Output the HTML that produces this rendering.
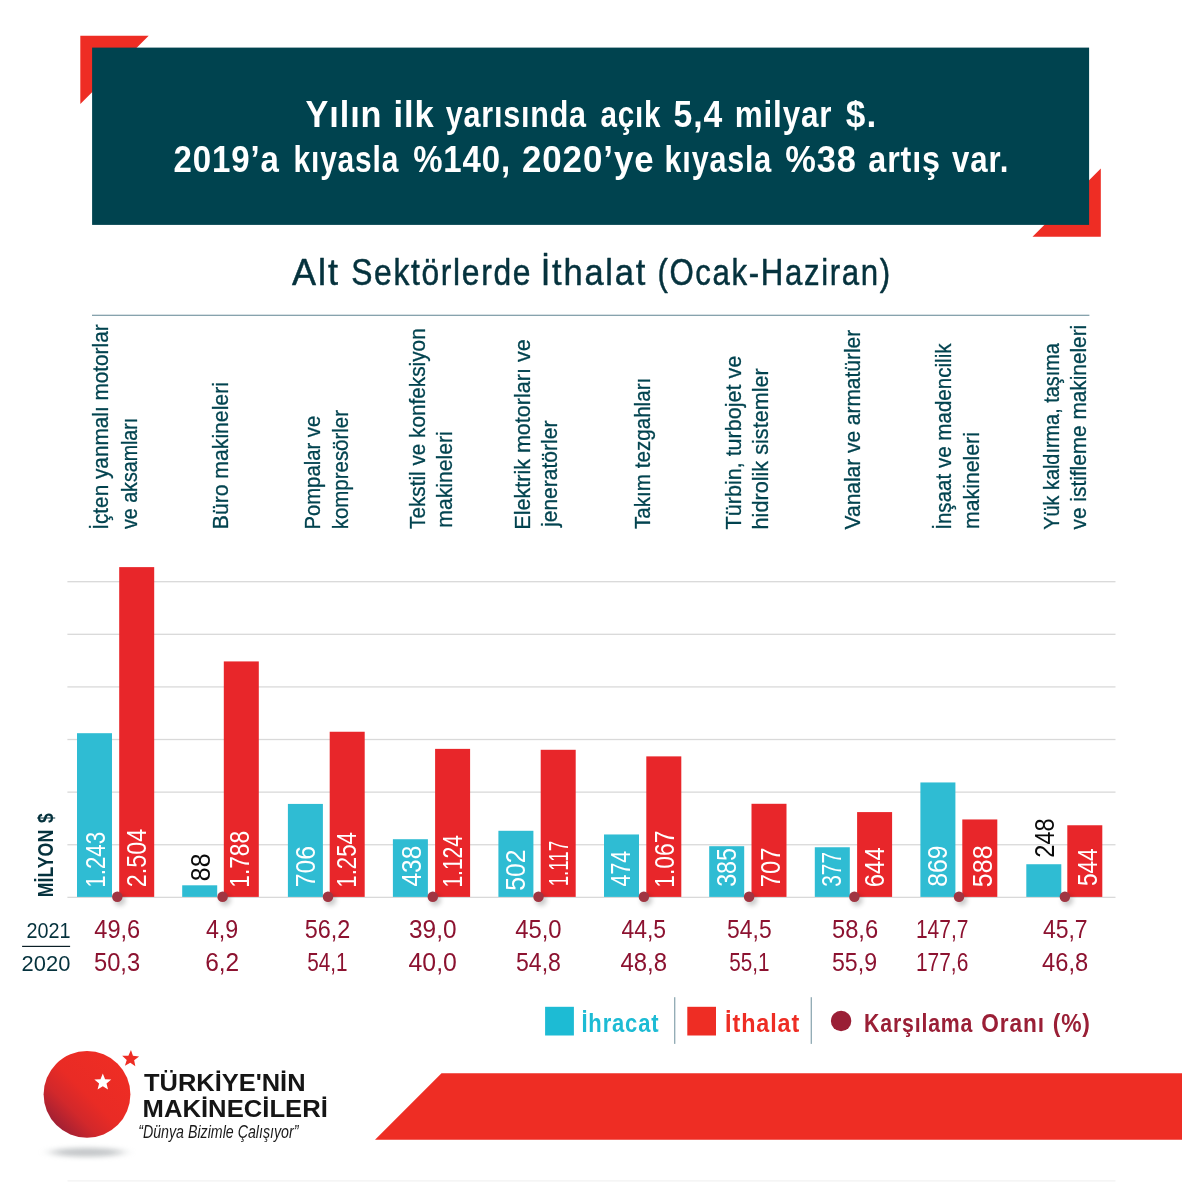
<!DOCTYPE html>
<html lang="tr"><head><meta charset="utf-8"><title>Alt Sektörlerde İthalat (Ocak-Haziran)</title>
<style>
html,body{margin:0;padding:0;background:#fff;}
body{width:1182px;height:1182px;overflow:hidden;}
svg{display:block;}
text{font-family:"Liberation Sans",sans-serif;}
</style></head><body>
<svg width="1182" height="1182" viewBox="0 0 1182 1182">
<rect width="1182" height="1182" fill="#fff"/>
<polygon points="80.3,35.7 148.7,35.7 80.3,104" fill="#ee2d24"/>
<polygon points="1100.8,168.4 1100.8,236.8 1032.5,236.8" fill="#ee2d24"/>
<rect x="92.1" y="47.6" width="997" height="177.3" fill="#00434f"/>
<text transform="translate(305.50 127.10) scale(0.9303 1)" font-size="36.80" fill="#fff" font-weight="bold" letter-spacing="1.00">Yılın</text>
<text transform="translate(393.48 127.10) scale(0.9390 1)" font-size="36.80" fill="#fff" font-weight="bold" letter-spacing="1.00">ilk</text>
<text transform="translate(445.67 127.10) scale(0.8281 1)" font-size="36.80" fill="#fff" font-weight="bold" letter-spacing="1.00">yarısında</text>
<text transform="translate(600.51 127.10) scale(0.8047 1)" font-size="36.80" fill="#fff" font-weight="bold" letter-spacing="1.00">açık</text>
<text transform="translate(673.49 127.10) scale(0.9159 1)" font-size="36.80" fill="#fff" font-weight="bold" letter-spacing="1.00">5,4</text>
<text transform="translate(734.66 127.10) scale(0.8541 1)" font-size="36.80" fill="#fff" font-weight="bold" letter-spacing="1.00">milyar</text>
<text transform="translate(845.86 127.10) scale(0.9585 1)" font-size="36.80" fill="#fff" font-weight="bold" letter-spacing="1.00">$.</text>
<text transform="translate(173.54 172.10) scale(0.8970 1)" font-size="36.80" fill="#fff" font-weight="bold" letter-spacing="1.00">2019’a</text>
<text transform="translate(293.61 172.10) scale(0.8131 1)" font-size="36.80" fill="#fff" font-weight="bold" letter-spacing="1.00">kıyasla</text>
<text transform="translate(413.18 172.10) scale(0.8949 1)" font-size="36.80" fill="#fff" font-weight="bold" letter-spacing="1.00">%140,</text>
<text transform="translate(521.88 172.10) scale(0.9483 1)" font-size="36.80" fill="#fff" font-weight="bold" letter-spacing="1.00">2020’ye</text>
<text transform="translate(664.56 172.10) scale(0.8289 1)" font-size="36.80" fill="#fff" font-weight="bold" letter-spacing="1.00">kıyasla</text>
<text transform="translate(785.14 172.10) scale(0.9351 1)" font-size="36.80" fill="#fff" font-weight="bold" letter-spacing="1.00">%38</text>
<text transform="translate(868.33 172.10) scale(0.8777 1)" font-size="36.80" fill="#fff" font-weight="bold" letter-spacing="1.00">artış</text>
<text transform="translate(952.04 172.10) scale(0.8478 1)" font-size="36.80" fill="#fff" font-weight="bold" letter-spacing="1.00">var.</text>
<text transform="translate(292.11 284.80) scale(0.9956 1)" font-size="36.20" fill="#05323d" stroke="#05323d" stroke-width="0.50" stroke-linejoin="round" letter-spacing="1.90">Alt</text>
<text transform="translate(351.17 284.80) scale(0.8785 1)" font-size="36.20" fill="#05323d" stroke="#05323d" stroke-width="0.50" stroke-linejoin="round" letter-spacing="1.90">Sektörlerde</text>
<text transform="translate(540.72 284.80) scale(0.9509 1)" font-size="36.20" fill="#05323d" stroke="#05323d" stroke-width="0.50" stroke-linejoin="round" letter-spacing="1.90">İthalat</text>
<text transform="translate(657.45 284.80) scale(0.8617 1)" font-size="36.20" fill="#05323d" stroke="#05323d" stroke-width="0.50" stroke-linejoin="round" letter-spacing="1.90">(Ocak-Haziran)</text>
<rect x="92" y="314.7" width="997.4" height="1.2" fill="#7b9aa5"/>
<text transform="translate(107.90 529.82) rotate(-90) scale(0.9275 1)" font-size="22.40" fill="#02434f" stroke="#02434f" stroke-width="0.30" stroke-linejoin="round">İçten yanmalı motorlar</text>
<text transform="translate(137.10 529.00) rotate(-90) scale(0.8772 1)" font-size="22.40" fill="#02434f" stroke="#02434f" stroke-width="0.30" stroke-linejoin="round">ve aksamları</text>
<text transform="translate(228.00 529.25) rotate(-90) scale(0.9457 1)" font-size="22.40" fill="#02434f" stroke="#02434f" stroke-width="0.30" stroke-linejoin="round">Büro makineleri</text>
<text transform="translate(319.60 529.57) rotate(-90) scale(0.9055 1)" font-size="22.40" fill="#02434f" stroke="#02434f" stroke-width="0.30" stroke-linejoin="round">Pompalar ve</text>
<text transform="translate(347.80 529.28) rotate(-90) scale(0.9134 1)" font-size="22.40" fill="#02434f" stroke="#02434f" stroke-width="0.30" stroke-linejoin="round">kompresörler</text>
<text transform="translate(425.10 528.97) rotate(-90) scale(0.9271 1)" font-size="22.40" fill="#02434f" stroke="#02434f" stroke-width="0.30" stroke-linejoin="round">Tekstil ve konfeksiyon</text>
<text transform="translate(452.30 527.73) rotate(-90) scale(0.9459 1)" font-size="22.40" fill="#02434f" stroke="#02434f" stroke-width="0.30" stroke-linejoin="round">makineleri</text>
<text transform="translate(529.90 529.68) rotate(-90) scale(0.9621 1)" font-size="22.40" fill="#02434f" stroke="#02434f" stroke-width="0.30" stroke-linejoin="round">Elektrik motorları ve</text>
<text transform="translate(557.10 526.97) rotate(-90) scale(0.9391 1)" font-size="22.40" fill="#02434f" stroke="#02434f" stroke-width="0.30" stroke-linejoin="round">jeneratörler</text>
<text transform="translate(649.90 528.96) rotate(-90) scale(0.9207 1)" font-size="22.40" fill="#02434f" stroke="#02434f" stroke-width="0.30" stroke-linejoin="round">Takım tezgahları</text>
<text transform="translate(740.90 529.38) rotate(-90) scale(0.9618 1)" font-size="22.40" fill="#02434f" stroke="#02434f" stroke-width="0.30" stroke-linejoin="round">Türbin, turbojet ve</text>
<text transform="translate(767.70 529.42) rotate(-90) scale(0.9675 1)" font-size="22.40" fill="#02434f" stroke="#02434f" stroke-width="0.30" stroke-linejoin="round">hidrolik sistemler</text>
<text transform="translate(859.50 529.40) rotate(-90) scale(0.9346 1)" font-size="22.40" fill="#02434f" stroke="#02434f" stroke-width="0.30" stroke-linejoin="round">Vanalar ve armatürler</text>
<text transform="translate(950.90 529.80) rotate(-90) scale(0.9180 1)" font-size="22.40" fill="#02434f" stroke="#02434f" stroke-width="0.30" stroke-linejoin="round">İnşaat ve madencilik</text>
<text transform="translate(978.50 528.93) rotate(-90) scale(0.9489 1)" font-size="22.40" fill="#02434f" stroke="#02434f" stroke-width="0.30" stroke-linejoin="round">makineleri</text>
<text transform="translate(1058.80 529.75) rotate(-90) scale(0.8874 1)" font-size="22.40" fill="#02434f" stroke="#02434f" stroke-width="0.30" stroke-linejoin="round">Yük kaldırma, taşıma</text>
<text transform="translate(1085.70 529.40) rotate(-90) scale(0.9294 1)" font-size="22.40" fill="#02434f" stroke="#02434f" stroke-width="0.30" stroke-linejoin="round">ve istifleme makineleri</text>
<rect x="67.4" y="896.70" width="1048.1" height="1.3" fill="#d9d9d9"/>
<rect x="67.4" y="844.09" width="1048.1" height="1.3" fill="#d9d9d9"/>
<rect x="67.4" y="791.48" width="1048.1" height="1.3" fill="#d9d9d9"/>
<rect x="67.4" y="738.87" width="1048.1" height="1.3" fill="#d9d9d9"/>
<rect x="67.4" y="686.26" width="1048.1" height="1.3" fill="#d9d9d9"/>
<rect x="67.4" y="633.65" width="1048.1" height="1.3" fill="#d9d9d9"/>
<rect x="67.4" y="581.04" width="1048.1" height="1.3" fill="#d9d9d9"/>
<rect x="77.0" y="733.20" width="35" height="163.70" fill="#2fbcd3"/>
<rect x="119.2" y="567.12" width="35" height="329.78" fill="#e8262a"/>
<rect x="182.2" y="885.31" width="35" height="11.59" fill="#2fbcd3"/>
<rect x="223.8" y="661.42" width="35" height="235.48" fill="#e8262a"/>
<rect x="287.9" y="803.92" width="35" height="92.98" fill="#2fbcd3"/>
<rect x="329.7" y="731.75" width="35" height="165.15" fill="#e8262a"/>
<rect x="392.9" y="839.22" width="35" height="57.68" fill="#2fbcd3"/>
<rect x="435.1" y="748.87" width="35" height="148.03" fill="#e8262a"/>
<rect x="498.4" y="830.79" width="35" height="66.11" fill="#2fbcd3"/>
<rect x="540.7" y="749.79" width="35" height="147.11" fill="#e8262a"/>
<rect x="604.0" y="834.47" width="35" height="62.43" fill="#2fbcd3"/>
<rect x="646.3" y="756.38" width="35" height="140.52" fill="#e8262a"/>
<rect x="709.2" y="846.20" width="35" height="50.70" fill="#2fbcd3"/>
<rect x="751.5" y="803.79" width="35" height="93.11" fill="#e8262a"/>
<rect x="814.8" y="847.25" width="35" height="49.65" fill="#2fbcd3"/>
<rect x="857.1" y="812.09" width="35" height="84.81" fill="#e8262a"/>
<rect x="920.4" y="782.45" width="35" height="114.45" fill="#2fbcd3"/>
<rect x="962.3" y="819.46" width="35" height="77.44" fill="#e8262a"/>
<rect x="1026.3" y="864.24" width="35" height="32.66" fill="#2fbcd3"/>
<rect x="1067.3" y="825.26" width="35" height="71.64" fill="#e8262a"/>
<text transform="translate(105.20 887.68) rotate(-90) scale(0.8277 1)" font-size="27.00" fill="#fff">1.243</text>
<text transform="translate(210.40 881.15) rotate(-90) scale(0.9178 1)" font-size="27.00" fill="#0a0a0a">88</text>
<text transform="translate(314.70 887.30) rotate(-90) scale(0.9162 1)" font-size="27.00" fill="#fff">706</text>
<text transform="translate(421.30 886.55) rotate(-90) scale(0.9060 1)" font-size="27.00" fill="#fff">438</text>
<text transform="translate(525.40 890.79) rotate(-90) scale(0.9157 1)" font-size="27.00" fill="#fff">502</text>
<text transform="translate(630.40 886.48) rotate(-90) scale(0.7946 1)" font-size="27.00" fill="#fff">474</text>
<text transform="translate(735.90 886.87) rotate(-90) scale(0.8595 1)" font-size="27.00" fill="#fff">385</text>
<text transform="translate(841.30 886.78) rotate(-90) scale(0.7736 1)" font-size="27.00" fill="#fff">377</text>
<text transform="translate(947.30 886.65) rotate(-90) scale(0.9165 1)" font-size="27.00" fill="#fff">869</text>
<text transform="translate(1053.50 857.67) rotate(-90) scale(0.8701 1)" font-size="27.00" fill="#0a0a0a">248</text>
<text transform="translate(145.60 887.17) rotate(-90) scale(0.8660 1)" font-size="27.00" fill="#fff">2.504</text>
<text transform="translate(249.40 887.70) rotate(-90) scale(0.8417 1)" font-size="27.00" fill="#fff">1.788</text>
<text transform="translate(356.10 887.67) rotate(-90) scale(0.8225 1)" font-size="27.00" fill="#fff">1.254</text>
<text transform="translate(462.40 887.58) rotate(-90) scale(0.7778 1)" font-size="27.00" fill="#fff">1.124</text>
<text transform="translate(568.20 886.30) rotate(-90) scale(0.6933 1)" font-size="27.00" fill="#fff">1.117</text>
<text transform="translate(674.40 887.71) rotate(-90) scale(0.8443 1)" font-size="27.00" fill="#fff">1.067</text>
<text transform="translate(780.40 887.25) rotate(-90) scale(0.8804 1)" font-size="27.00" fill="#fff">707</text>
<text transform="translate(883.60 887.20) rotate(-90) scale(0.8875 1)" font-size="27.00" fill="#fff">644</text>
<text transform="translate(991.70 887.20) rotate(-90) scale(0.9277 1)" font-size="27.00" fill="#fff">588</text>
<text transform="translate(1096.50 886.11) rotate(-90) scale(0.8403 1)" font-size="27.00" fill="#fff">544</text>
<defs><filter id="ds" x="-50%" y="-50%" width="200%" height="200%"><feGaussianBlur stdDeviation="2.4"/></filter></defs>
<circle cx="119.9" cy="900.1" r="5.6" fill="#000" opacity="0.22" filter="url(#ds)"/>
<circle cx="117.3" cy="896.7" r="5.25" fill="#a03542"/>
<circle cx="225.2" cy="900.1" r="5.6" fill="#000" opacity="0.22" filter="url(#ds)"/>
<circle cx="222.6" cy="896.7" r="5.25" fill="#a03542"/>
<circle cx="330.6" cy="900.1" r="5.6" fill="#000" opacity="0.22" filter="url(#ds)"/>
<circle cx="328.0" cy="896.7" r="5.25" fill="#a03542"/>
<circle cx="435.4" cy="900.1" r="5.6" fill="#000" opacity="0.22" filter="url(#ds)"/>
<circle cx="432.8" cy="896.7" r="5.25" fill="#a03542"/>
<circle cx="541.1" cy="900.1" r="5.6" fill="#000" opacity="0.22" filter="url(#ds)"/>
<circle cx="538.5" cy="896.7" r="5.25" fill="#a03542"/>
<circle cx="646.5" cy="900.1" r="5.6" fill="#000" opacity="0.22" filter="url(#ds)"/>
<circle cx="643.9" cy="896.7" r="5.25" fill="#a03542"/>
<circle cx="751.7" cy="900.1" r="5.6" fill="#000" opacity="0.22" filter="url(#ds)"/>
<circle cx="749.1" cy="896.7" r="5.25" fill="#a03542"/>
<circle cx="857.0" cy="900.1" r="5.6" fill="#000" opacity="0.22" filter="url(#ds)"/>
<circle cx="854.4" cy="896.7" r="5.25" fill="#a03542"/>
<circle cx="961.6" cy="900.1" r="5.6" fill="#000" opacity="0.22" filter="url(#ds)"/>
<circle cx="959.0" cy="896.7" r="5.25" fill="#a03542"/>
<circle cx="1067.5" cy="900.1" r="5.6" fill="#000" opacity="0.22" filter="url(#ds)"/>
<circle cx="1064.9" cy="896.7" r="5.25" fill="#a03542"/>
<text transform="translate(52.80 897.20) rotate(-90) scale(0.8191 1)" font-size="21.70" fill="#05323d" font-weight="bold">MİLYON</text>
<text transform="translate(52.80 823.02) rotate(-90) scale(0.8086 1)" font-size="21.70" fill="#05323d" font-weight="bold">$</text>
<text transform="translate(26.41 937.50) scale(0.9215 1)" font-size="21.50" fill="#05323d">2021</text>
<text transform="translate(21.60 970.70) scale(1.0196 1)" font-size="21.50" fill="#05323d">2020</text>
<rect x="22.1" y="945.8" width="48" height="1.2" fill="#0a1f26"/>
<text transform="translate(94.27 937.80) scale(0.9447 1)" font-size="25.00" fill="#8c1230">49,6</text>
<text transform="translate(205.88 937.80) scale(0.9316 1)" font-size="25.00" fill="#8c1230">4,9</text>
<text transform="translate(304.76 937.80) scale(0.9358 1)" font-size="25.00" fill="#8c1230">56,2</text>
<text transform="translate(408.98 937.80) scale(0.9775 1)" font-size="25.00" fill="#8c1230">39,0</text>
<text transform="translate(515.16 937.80) scale(0.9549 1)" font-size="25.00" fill="#8c1230">45,0</text>
<text transform="translate(621.38 937.80) scale(0.9179 1)" font-size="25.00" fill="#8c1230">44,5</text>
<text transform="translate(727.08 937.80) scale(0.9158 1)" font-size="25.00" fill="#8c1230">54,5</text>
<text transform="translate(831.95 937.80) scale(0.9493 1)" font-size="25.00" fill="#8c1230">58,6</text>
<text transform="translate(915.93 937.80) scale(0.8395 1)" font-size="25.00" fill="#8c1230">147,7</text>
<text transform="translate(1042.88 937.80) scale(0.9207 1)" font-size="25.00" fill="#8c1230">45,7</text>
<text transform="translate(93.95 970.80) scale(0.9493 1)" font-size="25.00" fill="#8c1230">50,3</text>
<text transform="translate(205.18 970.80) scale(0.9798 1)" font-size="25.00" fill="#8c1230">6,2</text>
<text transform="translate(307.17 970.80) scale(0.8291 1)" font-size="25.00" fill="#8c1230">54,1</text>
<text transform="translate(408.54 970.80) scale(0.9931 1)" font-size="25.00" fill="#8c1230">40,0</text>
<text transform="translate(515.98 970.80) scale(0.9235 1)" font-size="25.00" fill="#8c1230">54,8</text>
<text transform="translate(620.46 970.80) scale(0.9574 1)" font-size="25.00" fill="#8c1230">48,8</text>
<text transform="translate(729.17 970.80) scale(0.8269 1)" font-size="25.00" fill="#8c1230">55,1</text>
<text transform="translate(831.97 970.80) scale(0.9269 1)" font-size="25.00" fill="#8c1230">55,9</text>
<text transform="translate(915.93 970.80) scale(0.8369 1)" font-size="25.00" fill="#8c1230">177,6</text>
<text transform="translate(1042.07 970.80) scale(0.9468 1)" font-size="25.00" fill="#8c1230">46,8</text>
<rect x="545.1" y="1006.8" width="28.8" height="28.7" fill="#1dbbd4"/>
<text transform="translate(581.42 1031.80) scale(0.8453 1)" font-size="26.00" fill="#1dbbd4" font-weight="bold" letter-spacing="1.00">İhracat</text>
<rect x="674.2" y="997.2" width="1.1" height="46.7" fill="#7b9aa5"/>
<rect x="687.3" y="1006.8" width="28.7" height="28.7" fill="#ee2d24"/>
<text transform="translate(725.12 1031.80) scale(0.8982 1)" font-size="26.00" fill="#ee2d24" font-weight="bold" letter-spacing="1.00">İthalat</text>
<rect x="810.7" y="997.2" width="1.1" height="46.7" fill="#7b9aa5"/>
<circle cx="841.1" cy="1021" r="10.2" fill="#9a1f36"/>
<text transform="translate(864.06 1031.80) scale(0.8193 1)" font-size="26.00" fill="#9a1f36" font-weight="bold" letter-spacing="1.00">Karşılama</text>
<text transform="translate(981.29 1031.80) scale(0.8716 1)" font-size="26.00" fill="#9a1f36" font-weight="bold" letter-spacing="1.00">Oranı</text>
<text transform="translate(1052.66 1031.80) scale(0.8787 1)" font-size="26.00" fill="#9a1f36" font-weight="bold" letter-spacing="1.00">(%)</text>
<polygon points="441.5,1073.2 1182,1073.2 1182,1139.8 375,1139.8" fill="#ee2d24"/>
<defs>
<linearGradient id="lg" x1="0.85" y1="0.15" x2="0.15" y2="0.85"><stop offset="0" stop-color="#ee2d24"/><stop offset="0.5" stop-color="#e92b25"/><stop offset="0.75" stop-color="#d2282b"/><stop offset="1" stop-color="#a32033"/></linearGradient>
<filter id="sh" x="-50%" y="-200%" width="200%" height="500%"><feGaussianBlur stdDeviation="7 2.8"/></filter>
</defs>
<ellipse cx="87.2" cy="1152.3" rx="36" ry="4.5" fill="#8a9094" opacity="0.5" filter="url(#sh)"/>
<circle cx="87.0" cy="1094.35" r="43.4" fill="url(#lg)"/>
<polygon points="102.80,1073.40 105.09,1079.14 111.26,1079.55 106.51,1083.51 108.03,1089.50 102.80,1086.20 97.57,1089.50 99.09,1083.51 94.34,1079.55 100.51,1079.14" fill="#fff"/>
<polygon points="130.97,1050.01 132.95,1055.87 139.10,1056.60 134.14,1060.30 135.35,1066.36 130.30,1062.79 124.90,1065.82 126.73,1059.91 122.19,1055.71 128.38,1055.63" fill="#ee2d24"/>
<text transform="translate(144.05 1090.50) scale(1.0343 1)" font-size="24.60" fill="#151515" font-weight="bold">TÜRKİYE&#x27;NİN</text>
<text transform="translate(142.57 1116.70) scale(1.0433 1)" font-size="24.60" fill="#151515" font-weight="bold">MAKİNECİLERİ</text>
<text transform="translate(138.17 1137.80) scale(0.8079 1)" font-size="17.60" fill="#1a1a1a" font-style="italic">“Dünya Bizimle Çalışıyor”</text>
<rect x="67.5" y="1180.3" width="1048" height="1.2" fill="#f1f1f1"/>
</svg>
</body></html>
